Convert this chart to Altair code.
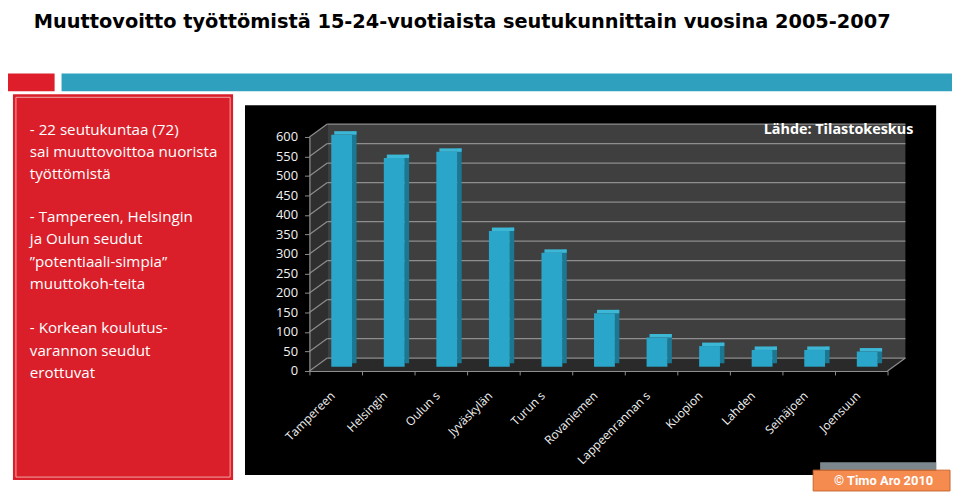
import altair as alt
import pandas as pd

# ---------------- data ----------------
categories = ["Tampereen", "Helsingin", "Oulun s", "Jyväskylän", "Turun s", "Rovaniemen",
              "Lappeenrannan s", "Kuopion", "Lahden", "Seinäjoen", "Joensuun"]
values = [595, 535, 551, 348, 292, 137, 75, 53, 43, 43, 39]
y_ticks = [0, 50, 100, 150, 200, 250, 300, 350, 400, 450, 500, 550, 600]

title_text = "Muuttovoitto työttömistä 15-24-vuotiaista seutukunnittain vuosina 2005-2007"
box_par1 = [" - 22 seutukuntaa (72)", "sai muuttovoittoa nuorista", "työttömistä"]
box_par2 = [" - Tampereen, Helsingin", "ja Oulun seudut", "”potentiaali-simpia”",
            "muuttokoh-teita"]
box_par3 = [" - Korkean koulutus-", "varannon seudut", "erottuvat"]
source_text = "Lähde: Tilastokeskus"
credit_text = "© Timo Aro 2010"

# ---------------- geometry / style ----------------
N = len(categories)
W, H = 583, 236
YMAX = 600
DEPTH_X, DEPTH_Y = 18, 13
dx_u = DEPTH_X / (W / N)
dy_u = DEPTH_Y / H * YMAX

FONT = "Open Sans"
BAR_FRONT = "#29a6c9"
BAR_SIDE = "#1b7893"
BAR_TOP = "#3db7d6"
GRID = "#8e8e8e"

bars = pd.DataFrame({"cat": categories, "value": values, "i": list(range(N))})
bars["i1"] = bars["i"] + 1
bars["xc"] = bars["i"] + 0.5
bars["zero"] = 0

grid = pd.DataFrame({"v": y_ticks})
grid["x0"] = 0
grid["x1"] = N
side_wall = pd.DataFrame({"x": [0, dx_u], "y": [0, dy_u], "y2": [YMAX, YMAX + dy_u]})
floor = pd.DataFrame({"x": [0, dx_u, N, N + dx_u], "y": [0, 0, 0, dy_u],
                      "y2": [0, dy_u, dy_u, dy_u]})
wall = pd.DataFrame({"x0": [0], "x1": [N], "y0": [0], "y1": [YMAX]})
one = pd.DataFrame({"k": [0]})

xs = alt.Scale(domain=[0, N], nice=False, zero=False)
ys = alt.Scale(domain=[0, YMAX], nice=False)

x_axis = alt.Axis(values=list(range(N + 1)), labels=False, title=None, grid=False,
                  domainColor=GRID, tickColor=GRID, tickSize=4, domainWidth=1.2,
                  zindex=1)
y_axis = alt.Axis(values=y_ticks, title=None, grid=False, labelColor="#f2f2f2",
                  labelFont=FONT, labelFontSize=13, labelPadding=7,
                  domainColor=GRID, tickColor=GRID, tickSize=5, domainWidth=1.2,
                  zindex=1)


def X(f):
    return alt.X(f, scale=xs, axis=x_axis)


def Y(f):
    return alt.Y(f, scale=ys, axis=y_axis)


def rect(x, x2, y, y2, **kw):
    return alt.Chart(one).mark_rect(**kw).encode(
        x=alt.value(x), x2=alt.value(x2), y=alt.value(y), y2=alt.value(y2))


def text(x, y, t, **kw):
    return alt.Chart(one).mark_text(**kw).encode(
        x=alt.value(x), y=alt.value(y), text=alt.value(t))


# ---------------- slide decoration (pixels relative to plot origin) ----------------
red_square = rect(-304, -257, -64, -46, color="#de1f2b")
teal_bar = rect(-250, 648, -64, -46, color="#2fa0bd")
red_box = rect(-299, -77, -43, 346, color="#da1f2a")
red_box_line = rect(-296, -80, -40, 343, fillOpacity=0, stroke="#f2a5a5", strokeWidth=1)
black_panel = rect(-65, 632, -32, 341, color="#000000")
gray_tab = rect(515, 632, 328, 336, color="#7b878c")
orange_tab = rect(508, 646, 336, 357, color="#f68b4f", stroke="#c8652f", strokeWidth=1)

title = text(-278, -109.5, title_text, align="left", baseline="alphabetic",
             font="DejaVu Sans", fontSize=19.5, fontWeight="bold", color="#000000")
box_style = dict(align="left", baseline="alphabetic", lineBreak="\n", font=FONT,
                 fontSize=15.3, lineHeight=22.4, color="#ffffff")
box_text1 = text(-282, -2, "\n".join(box_par1), **box_style)
box_text2 = text(-282, 86, "\n".join(box_par2), **box_style)
box_text3 = text(-282, 198, "\n".join(box_par3), **box_style)
source = text(609, -7, source_text, align="right", baseline="middle",
              font=FONT, fontSize=14.5, fontWeight="bold", color="#ffffff")
credit = text(579, 347, credit_text, align="center", baseline="middle",
              font="Roboto", fontSize=13, fontWeight="bold", color="#ffffff")

# ---------------- 3D frame ----------------
side = alt.Chart(side_wall).mark_area(color="#2f2f2f").encode(
    x=X("x:Q"), y=Y("y:Q"), y2="y2")
flo = alt.Chart(floor).mark_area(color="#2a2a2a").encode(
    x=X("x:Q"), y=Y("y:Q"), y2="y2")
back = alt.Chart(wall).mark_rect(color="#3f3f3f", xOffset=DEPTH_X, x2Offset=DEPTH_X,
                                 yOffset=-DEPTH_Y, y2Offset=-DEPTH_Y).encode(
    x=X("x0:Q"), x2="x1", y=Y("y0:Q"), y2="y1")
grid_back = alt.Chart(grid).mark_rule(color=GRID, strokeWidth=1.4, xOffset=DEPTH_X,
                                      x2Offset=DEPTH_X, yOffset=-DEPTH_Y).encode(
    x=X("x0:Q"), x2="x1", y=Y("v:Q"))
grid_side = alt.Chart(grid).mark_rule(color=GRID, strokeWidth=1.2, x2Offset=DEPTH_X,
                                      y2Offset=-DEPTH_Y).encode(
    x=X("x0:Q"), x2="x0", y=Y("v:Q"), y2="v")
floor_edge = alt.Chart(wall).mark_rule(color=GRID, strokeWidth=1.2, x2Offset=DEPTH_X,
                                       y2Offset=-DEPTH_Y).encode(
    x=X("x1:Q"), x2="x1", y=Y("y0:Q"), y2="y0")

# ---------------- bars ----------------
bar_side = alt.Chart(bars).mark_rect(color=BAR_SIDE, xOffset=43, x2Offset=-5.5,
                                     yOffset=-7.8, y2Offset=-7.8).encode(
    x=X("i:Q"), x2="i1", y=Y("value:Q"), y2="zero")
bar_top = alt.Chart(bars).mark_rect(color=BAR_TOP, xOffset=25, x2Offset=-5.5,
                                    yOffset=-7.8, y2Offset=-4.3).encode(
    x=X("i:Q"), x2="i1", y=Y("value:Q"), y2="value")
bar_front = alt.Chart(bars).mark_rect(color=BAR_FRONT, xOffset=22, x2Offset=-10,
                                      yOffset=-4.3, y2Offset=-4.3).encode(
    x=X("i:Q"), x2="i1", y=Y("value:Q"), y2="zero")
labels = alt.Chart(bars).mark_text(angle=315, align="right", baseline="middle",
                                   xOffset=-3, yOffset=23, font=FONT, fontSize=12,
                                   color="#f4f4f4").encode(
    x=X("xc:Q"), y=Y("zero:Q"), text="cat:N")

chart = alt.layer(
    red_square, teal_bar, red_box, red_box_line, black_panel, gray_tab, orange_tab,
    title, box_text1, box_text2, box_text3, side, flo, back, grid_back, grid_side,
    floor_edge, bar_side, bar_top, bar_front, labels, source, credit,
).properties(
    width=W, height=H,
    padding={"left": 304, "top": 128, "right": 65, "bottom": 122},
    autosize=alt.AutoSizeParams(type="none"),
    background="#ffffff",
).configure_view(stroke=None)

chart.save("out.html", embed_options={"renderer": "svg", "actions": False})
